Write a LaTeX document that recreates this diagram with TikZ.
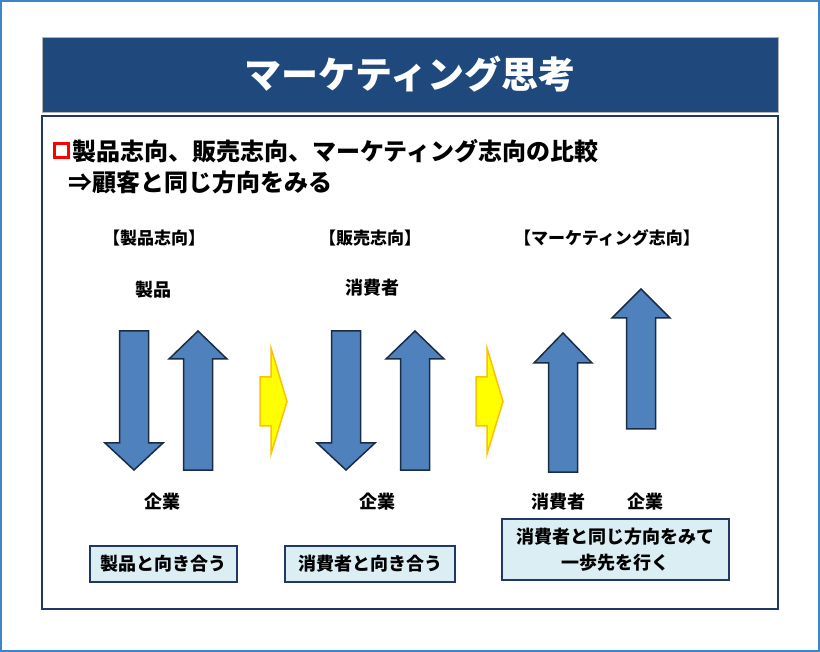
\documentclass[tikz,border=0pt]{standalone}
\usepackage{fontspec}
\setmainfont{Noto Sans CJK JP}
\definecolor{framebl}{HTML}{3D85C6}
\definecolor{titlebl}{HTML}{1F497D}
\definecolor{navy}{HTML}{1F3864}
\definecolor{arrfill}{HTML}{4F81BD}
\definecolor{arredge}{HTML}{1A2B45}
\definecolor{boxfill}{HTML}{DAEEF3}
\definecolor{yelfill}{HTML}{FFFF00}
\definecolor{yeledge}{HTML}{FFC000}
\tikzset{
  bluearrow/.style={fill=arrfill,draw=arredge,line width=1.5pt,line join=miter},
  yelarrow/.style={fill=yelfill,draw=yeledge,line width=1.5pt,line join=miter},
  grouplbl/.style={font=\bfseries\fontsize{17}{19}\selectfont,inner sep=0},
  endlbl/.style={font=\bfseries\fontsize{18}{20}\selectfont,inner sep=0},
  notebox/.style={fill=boxfill,draw=navy,line width=1.5pt,font=\bfseries\fontsize{18}{26}\selectfont,align=center,inner sep=0}
}
\newcommand{\uparrowshape}[4]{% cx, tip y, wing y, bottom y
  \draw[bluearrow] (#1,#2) -- (#1+29,#3) -- (#1+14.5,#3) -- (#1+14.5,#4) -- (#1-14.5,#4) -- (#1-14.5,#3) -- (#1-29,#3) -- cycle;}
\newcommand{\downarrowshape}[4]{% cx, top y, wing y, tip y
  \draw[bluearrow] (#1-14.5,#2) -- (#1+14.5,#2) -- (#1+14.5,#3) -- (#1+29,#3) -- (#1,#4) -- (#1-29,#3) -- (#1-14.5,#3) -- cycle;}
\newcommand{\rightarrowshape}[1]{% left x of shaft
  \draw[yelarrow] (#1,377) -- (#1+11,377) -- (#1+11,348) -- (#1+27,401.5) -- (#1+11,454) -- (#1+11,426) -- (#1,426) -- cycle;}
\begin{document}
\begin{tikzpicture}[x=1pt,y=-1pt]
\useasboundingbox (0,0) rectangle (820,652);
% outer frame
\draw[framebl,line width=2pt] (1,1) rectangle (819,651);
% title bar
\fill[titlebl] (42,37) rectangle (778,112);
\draw[gray!60,line width=0.6pt] (42,37) rectangle (778,112);
\node[text=white,font=\bfseries\fontsize{37}{40}\selectfont,inner sep=0] (title) at (410,74) {マーケティング思考};
% content box
\draw[navy,line width=2pt,fill=white] (42,116) rectangle (778,609);
% bullet and heading
\draw[red,line width=3pt,fill=white] (54,144) rectangle (68,158);
\node[anchor=west,inner sep=0,font=\bfseries\fontsize{24}{26}\selectfont] (head1) at (72,151) {製品志向、販売志向、マーケティング志向の比較};
\node[anchor=west,inner sep=0,font=\bfseries\fontsize{24}{26}\selectfont] (head2) at (68,182) {⇒顧客と同じ方向をみる};
% group labels
\node[grouplbl] (g1) at (154,238) {【製品志向】};
\node[grouplbl] (g2) at (370,238) {【販売志向】};
\node[grouplbl] (g3) at (607,238) {【マーケティング志向】};
% top labels
\node[endlbl] (t1) at (153,290) {製品};
\node[endlbl] (t2) at (372,288) {消費者};
% arrows group 1
\downarrowshape{134}{331}{443}{470}
\uparrowshape{198}{331}{359}{470}
\rightarrowshape{260}
% arrows group 2
\downarrowshape{346}{331}{443}{470}
\uparrowshape{415}{331}{359}{470}
\rightarrowshape{476}
% arrows group 3
\uparrowshape{563}{333}{363}{472}
\uparrowshape{641}{289}{318}{429}
% bottom labels
\node[endlbl] (b1) at (162,502) {企業};
\node[endlbl] (b2) at (377,502) {企業};
\node[endlbl] (b3) at (558,502) {消費者};
\node[endlbl] (b4) at (645,502) {企業};
% note boxes
\node[notebox,minimum width=147pt,minimum height=36pt] (n1) at (163.5,564) {製品と向き合う};
\node[notebox,minimum width=170pt,minimum height=36pt] (n2) at (370,564) {消費者と向き合う};
\node[notebox,minimum width=227pt,minimum height=61pt] (n3) at (615.5,549.5) {消費者と同じ方向をみて\\一歩先を行く};
\end{tikzpicture}
\end{document}
